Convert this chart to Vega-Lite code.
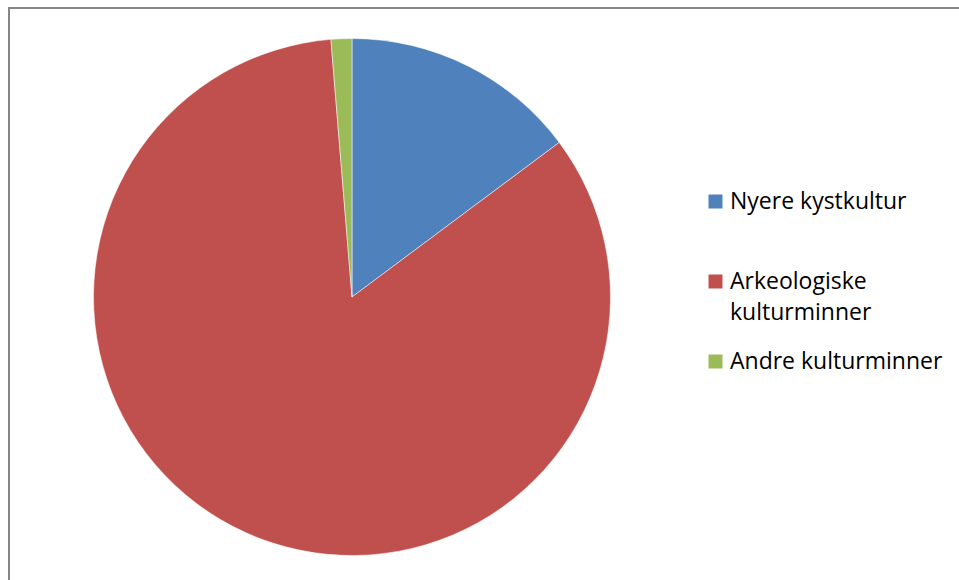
{
  "$schema": "https://vega.github.io/schema/vega-lite/v6.json",
  "width": 952,
  "height": 574,
  "padding": {"left": 9, "top": 8, "right": 0, "bottom": 0},
  "autosize": {"type": "none"},
  "background": "white",
  "view": {"stroke": "#868686", "strokeWidth": 2},
  "config": {"style": {"guide-label": {"lineHeight": 31}}},
  "data": {
    "values": [
      {"kategori": "Nyere kystkultur", "andel": 14.8, "rekke": 1},
      {"kategori": "Arkeologiske kulturminner", "andel": 83.9, "rekke": 2},
      {"kategori": "Andre kulturminner", "andel": 1.3, "rekke": 3}
    ]
  },
  "mark": {"type": "arc", "outerRadius": 258.5, "x": 343, "y": 289, "stroke": "white", "strokeWidth": 0.5},
  "encoding": {
    "theta": {"field": "andel", "type": "quantitative", "stack": true},
    "order": {"field": "rekke", "type": "quantitative"},
    "color": {
      "field": "kategori",
      "type": "nominal",
      "sort": null,
      "scale": {
        "domain": ["Nyere kystkultur", "Arkeologiske kulturminner", "Andre kulturminner"],
        "range": ["#4F81BD", "#C0504D", "#9BBB59"]
      },
      "legend": {
        "orient": "none",
        "legendX": 695,
        "legendY": 182,
        "padding": 0,
        "title": null,
        "symbolType": "square",
        "symbolSize": 196,
        "symbolStrokeWidth": 0,
        "labelFont": "Open Sans",
        "labelFontSize": 23,
        "labelColor": "#000000",
        "labelLimit": 400,
        "labelOffset": 3,
        "rowPadding": 25,
        "labelExpr": "datum.label == 'Arkeologiske kulturminner' ? ['Arkeologiske', 'kulturminner'] : [datum.label, '']",
        "encode": {"labels": {"enter": {"lineHeight": {"value": 31}}, "update": {"lineHeight": {"value": 31}}}}
      }
    }
  }
}
